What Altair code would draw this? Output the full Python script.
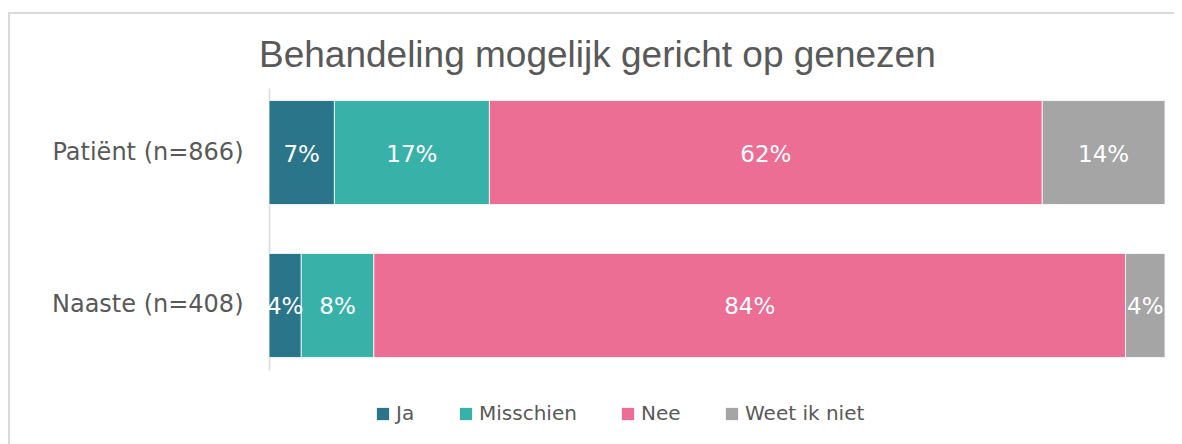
import altair as alt
import pandas as pd

groups = ["Patiënt (n=866)", "Naaste (n=408)"]
answers = ["Ja", "Misschien", "Nee", "Weet ik niet"]
patient_values = [7.3, 17.3, 61.7, 13.7]
naaste_values = [3.6, 8.1, 83.9, 4.4]
colors = ["#2A7589", "#38B2A8", "#EC6E94", "#A5A5A5"]

rows = []
for g, vals in zip(groups, [patient_values, naaste_values]):
    for i, (a, v) in enumerate(zip(answers, vals)):
        rows.append({"groep": g, "antwoord": a, "waarde": v, "orde": i,
                     "label": f"{round(v)}%"})
df = pd.DataFrame(rows)

FONT = "DejaVu Sans"
GREY_TEXT = "#595959"

base = alt.Chart(df).transform_stack(
    stack="waarde", groupby=["groep"], as_=["x0", "x1"],
    sort=[alt.SortField("orde", order="ascending")]
).transform_calculate(mid="(datum.x0 + datum.x1) / 2")

yenc = alt.Y("groep:N", sort=groups, title=None,
             scale=alt.Scale(paddingInner=0.32, paddingOuter=0.082),
             axis=alt.Axis(ticks=False, labelFontSize=24, labelFont=FONT,
                           labelColor=GREY_TEXT, labelPadding=26,
                           labelLimit=400,
                           domainColor="#d9d9d9", domainWidth=1.5))

bars = base.mark_bar(stroke="white", strokeWidth=0.8).encode(
    x=alt.X("x0:Q", scale=alt.Scale(domain=[0, 100]), axis=None),
    x2="x1:Q",
    y=yenc,
    color=alt.Color("antwoord:N", sort=answers,
                    scale=alt.Scale(domain=answers, range=colors),
                    legend=alt.Legend(title=None, orient="none",
                                      direction="horizontal",
                                      legendX=104, legendY=316,
                                      symbolType="square", symbolSize=150,
                                      symbolStrokeWidth=0,
                                      labelFontSize=20, labelFont=FONT,
                                      labelColor=GREY_TEXT, labelOffset=3,
                                      columnPadding=41)),
    order=alt.Order("orde:Q"),
)

labels = base.mark_text(color="white", fontSize=23, font=FONT,
                        baseline="middle", align="center", dy=2).encode(
    x=alt.X("mid:Q", scale=alt.Scale(domain=[0, 100]), axis=None),
    y=alt.Y("groep:N", sort=groups),
    text="label:N",
)

border = alt.Chart(pd.DataFrame({"k": [0]})).mark_rect(
    fill="transparent", stroke="#d9d9d9", strokeWidth=2
).encode(x=alt.value(-260), x2=alt.value(960), y=alt.value(-75), y2=alt.value(420))

chart = alt.layer(border, bars, labels).properties(
    width=896, height=282,
    autosize=alt.AutoSizeParams(type="none"),
    padding={"left": 261, "top": 80, "right": 9, "bottom": 74},
    title=alt.TitleParams("Behandeling mogelijk gericht op genezen",
                          fontSize=37, font="Liberation Sans",
                          fontWeight="normal", color=GREY_TEXT,
                          anchor="start", frame="group", dx=-10, offset=0,
                          baseline="alphabetic", dy=92),
).configure_view(stroke=None)

chart.save("out.html", embed_options={"renderer": "svg", "actions": False})
